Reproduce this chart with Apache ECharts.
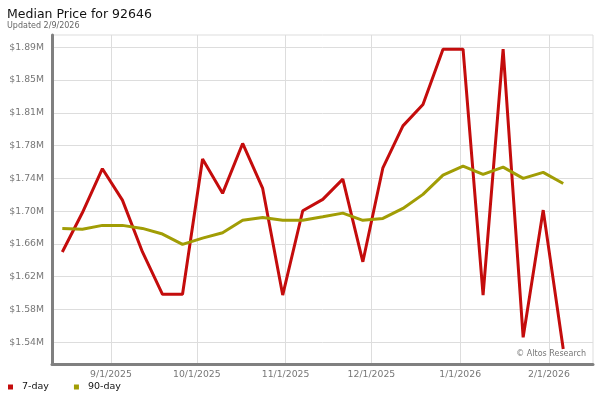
<!DOCTYPE html>
<html>
<head>
<meta charset="utf-8">
<style>
  html, body { margin: 0; padding: 0; background: #fff; }
  #chart { width: 600px; height: 400px; }
</style>
<script src="https://cdn.jsdelivr.net/npm/echarts@6/dist/echarts.min.js"></script>
</head>
<body>
<div id="chart"></div>
<script>
// weekly points, Friday dates
const dates = [
  '2025-08-15', '2025-08-22', '2025-08-29', '2025-09-05', '2025-09-12', '2025-09-19',
  '2025-09-26', '2025-10-03', '2025-10-10', '2025-10-17', '2025-10-24', '2025-10-31',
  '2025-11-07', '2025-11-14', '2025-11-21', '2025-11-28', '2025-12-05', '2025-12-12',
  '2025-12-19', '2025-12-26', '2026-01-02', '2026-01-09', '2026-01-16', '2026-01-23',
  '2026-01-30', '2026-02-06'
]
const sevenDay = [
  1649000, 1695600, 1748000, 1710700, 1649000, 1598600,
  1598600, 1759500, 1718700, 1778100, 1724600, 1597700,
  1698000, 1711500, 1735700, 1637300, 1749100, 1799000,
  1824500, 1890200, 1890200, 1597700, 1890200, 1547400,
  1698800, 1533500
]
const ninetyDay = [
  1677000, 1675900, 1680600, 1680600, 1677000, 1670300,
  1658000, 1665500, 1671800, 1686600, 1690100, 1686600,
  1686600, 1690800, 1695200, 1686600, 1688900, 1700800,
  1717500, 1740400, 1751100, 1741300, 1749900, 1736500,
  1743600, 1730500
]
const yTicks = [1541500, 1580500, 1619500, 1658500, 1697500, 1736500, 1775500, 1814500, 1853500, 1892500]
const xTicks = ['2025-09-01', '2025-10-01', '2025-11-01', '2025-12-01', '2026-01-01', '2026-02-01']

const DAY = 86400000
function toTime(s) {
  const p = s.split('-').map(Number)
  return Date.UTC(p[0], p[1] - 1, p[2])
}

const chart = echarts.init(document.getElementById('chart'))
const labelColor = '#777'
const option = {
  animation: false,
  title: {
    text: 'Median Price for 92646',
    subtext: 'Updated 2/9/2026',
    left: 2,
    top: 3,
    itemGap: 1,
    textStyle: { fontFamily: 'DejaVu Sans', fontSize: 12.5, fontWeight: 'normal', color: '#111' },
    subtextStyle: { fontFamily: 'DejaVu Sans', fontSize: 8, color: '#666' }
  },
  legend: {
    left: 3,
    bottom: 3,
    icon: 'rect',
    itemWidth: 5,
    itemHeight: 5,
    itemGap: 25,
    textStyle: { fontFamily: 'DejaVu Sans', fontSize: 9.5, color: '#111', padding: [0, 0, 0, 4] },
    data: ['7-day', '90-day']
  },
  grid: {
    left: 52,
    right: 7,
    top: 35,
    bottom: 36,
    show: true,
    borderColor: '#ddd',
    borderWidth: 1
  },
  xAxis: {
    type: 'value',
    min: toTime('2025-08-11') + 0.4 * DAY,
    max: toTime('2026-02-16') + 0.4 * DAY,
    axisLine: { show: true, lineStyle: { color: '#808080', width: 3 } },
    axisTick: { show: false, customValues: xTicks.map(toTime) },
    splitLine: { show: true, lineStyle: { color: '#ddd', width: 1 } },
    axisLabel: {
      customValues: xTicks.map(toTime),
      fontFamily: 'DejaVu Sans',
      fontSize: 9.3,
      color: labelColor,
      margin: 6,
      formatter: function (v) {
        const d = new Date(v)
        return (d.getUTCMonth() + 1) + '/' + d.getUTCDate() + '/' + d.getUTCFullYear()
      }
    }
  },
  yAxis: {
    type: 'value',
    min: 1515700,
    max: 1907100,
    axisLine: { show: true, lineStyle: { color: '#808080', width: 3 } },
    axisTick: { show: false, customValues: yTicks },
    splitLine: { show: true, lineStyle: { color: '#ddd', width: 1 } },
    axisLabel: {
      customValues: yTicks,
      fontFamily: 'DejaVu Sans',
      fontSize: 9.3,
      color: labelColor,
      margin: 8,
      formatter: function (v) {
        return '$' + (v / 1e6).toFixed(2) + 'M'
      }
    }
  },
  graphic: [
    {
      type: 'text',
      right: 14,
      top: 350,
      style: { text: '\u00a9 Altos Research', fontFamily: 'DejaVu Sans', fontSize: 8, fill: '#777' }
    }
  ],
  series: [
    {
      name: '7-day',
      type: 'line',
      data: dates.map((d, i) => [toTime(d), sevenDay[i]]),
      showSymbol: false,
      symbol: 'none',
      itemStyle: { color: '#c40c0c' },
      lineStyle: { color: '#c40c0c', width: 3 }
    },
    {
      name: '90-day',
      type: 'line',
      data: dates.map((d, i) => [toTime(d), ninetyDay[i]]),
      showSymbol: false,
      symbol: 'none',
      itemStyle: { color: '#a19d05' },
      lineStyle: { color: '#a19d05', width: 3 }
    }
  ]
}
chart.setOption(option)
</script>
</body>
</html>
